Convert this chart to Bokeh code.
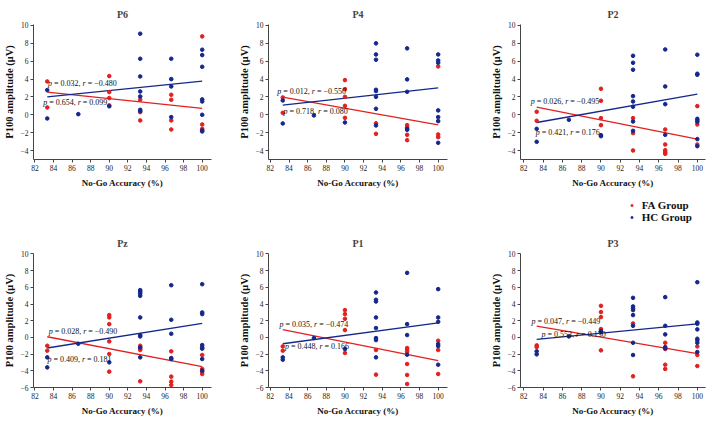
from bokeh.plotting import figure
from bokeh.layouts import row, column
from bokeh.models import Label, Legend, LegendItem, FixedTicker, Range1d, Spacer
from bokeh.embed import file_html
from bokeh.resources import INLINE

# ---------------- data ----------------
accuracy = [83.33, 86.67, 90.0, 93.33, 96.67, 100.0]
panels = ["P6", "P4", "P2", "Pz", "P1", "P3"]

# values grouped by accuracy level (same order as `accuracy`)
p6_fa = [[3.73, 0.82], [], [4.33, 2.54, 1.87, 1.05], [1.68, 0.30, -0.63],
         [2.24, 1.68, -0.63, -1.64], [8.77, -1.08, -1.57]]
p6_hc = [[2.76, -0.41], [0.07], [0.95], [9.07, 6.27, 4.29, 2.61, 2.05, 0.56, 0.41],
         [6.27, 3.99, 3.17, -0.26], [7.28, 6.68, 5.37, 1.72, 1.49, 0.0, -1.75, -1.86]]
p4_fa = [[1.94, 0.22], [], [3.88, 2.87, 2.01, 1.0, -0.34], [-0.95, -2.13],
         [-1.16, -1.4, -2.24, -2.84], [5.41, -2.20, -2.50]]
p4_hc = [[1.60, -0.97], [-0.07], [-0.86], [7.99, 6.75, 6.16, 2.80, 2.65, 2.01, 0.67, -1.19],
         [7.43, 3.96, 2.57, -1.57, -1.68], [6.75, 6.08, 5.82, 0.49, -0.26, -0.71, -3.13]]
p2_fa = [[0.34, -0.67], [], [2.91, 1.57, -0.37, -1.16], [-0.37, -2.05, -3.99],
         [-1.64, -3.32, -3.96, -4.18, -4.37], [0.97, -1.08, -3.32]]
p2_hc = [[-1.57, -3.02], [-0.56], [-2.28, -2.39], [6.60, 5.82, 5.04, 2.09, 1.49, 0.90, -0.75, -1.79],
         [7.31, 3.17, 1.19, -2.24], [6.72, 4.59, 4.48, -0.45, -0.63, -0.78, -2.72, -3.51]]
pz_fa = [[-1.00, -1.59], [], [2.67, 2.39, 1.59, -0.48, -1.99, -4.10], [-1.00, -1.35, -1.51, -5.26],
         [-1.67, -4.70, -5.30, -5.70], [-2.11, -3.78, -4.10, -4.38]]
pz_hc = [[-2.39, -3.59], [-0.76], [-2.99], [5.66, 5.46, 5.26, 4.98, 2.39, 0.28, 0.12, -1.2, -2.39],
         [6.25, 2.11, 0.44, -2.47, -2.6], [6.37, 2.99, 2.79, -0.92, -1.20, -1.35, -2.59, -3.98]]
p1_fa = [[-1.08, -1.59], [], [3.27, 2.79, 2.23, 0.88, -1.87], [-1.51, -4.46],
         [-1.27, -1.47, -1.71, -3.19, -4.50, -5.58], [-0.40, -1.51, -4.38]]
p1_hc = [[-2.39, -2.67], [-0.08], [-1.39], [5.38, 4.50, 4.30, 2.39, 1.12, -0.08, -0.32, -2.39],
         [7.73, 1.59, 0.28, -2.07], [5.78, 2.39, 1.87, -0.80, -1.04, -3.27]]
p3_fa = [[-0.96, -1.16], [], [3.78, 3.03, 2.43, 1.0, -1.55], [1.67, -4.66],
         [-0.64, -1.39, -3.27, -3.78], [-1.08, -2.11, -3.43]]
p3_hc = [[-1.67, -2.03], [0.12], [0.76, 0.64], [4.74, 3.71, 3.47, 3.27, 2.67, 1.39, -0.64, -2.11],
         [4.82, 1.39, 0.36, -1.16, -1.31], [6.61, 1.79, 1.63, 0.96, -0.16, -0.36, -0.64, -1.75]]

# fitted line values at the lowest and highest accuracy
fa_fit = [[2.54, 0.71], [1.98, -1.12], [0.86, -2.72], [0.08, -3.51], [0.92, -2.79], [1.35, -1.95]]
hc_fit = [[2.01, 3.77], [1.08, 3.02], [-0.86, 2.31], [-1.27, 1.67], [-0.76, 1.75], [-0.24, 1.63]]

# statistics text (two per panel)
stat_p = [["0.032", "0.654"], ["0.012", "0.718"], ["0.026", "0.421"],
          ["0.028", "0.409"], ["0.035", "0.448"], ["0.047", "0.553"]]
stat_r = [["\u22120.480", "0.099"], ["\u22120.550", "0.080"], ["\u22120.495", "0.176"],
          ["\u22120.490", "0.181"], ["\u22120.474", "0.166"], ["\u22120.449", "0.130"]]

x_ticks = [82, 84, 86, 88, 90, 92, 94, 96, 98, 100]
y_ticks_top = [-4, -2, 0, 2, 4, 6, 8, 10]
y_ticks_bottom = [-6, -4, -2, 0, 2, 4, 6, 8, 10]
legend_labels = ["FA Group", "HC Group"]

fa_data = [p6_fa, p4_fa, p2_fa, pz_fa, p1_fa, p3_fa]
hc_data = [p6_hc, p4_hc, p2_hc, pz_hc, p1_hc, p3_hc]

# ---------------- layout / style ----------------
RED = "#e3201f"
BLUE = "#14288c"
SERIF = "Liberation Serif"

col_w = [235, 235, 243]
col_left = [30, 30, 50]
col_right = [24, 23, 8]
col_xr = [(81.85, 101.0), (81.8, 101.0), (81.65, 100.85)]
row_h = [195, 196]
row_top = [24, 28]
row_bottom = [36, 34]
row_yr = [(-5.0, 10.1), (-6.0, 10.05)]

# annotation anchors (data coords, left edge / vertical centre)
ann_pos = [[(83.42, 3.47), (82.89, 1.38)], [(82.74, 2.61), (83.41, 0.41)],
           [(82.71, 1.49), (83.23, -1.98)], [(83.48, 0.68), (83.35, -2.59)],
           [(82.99, 1.59), (83.56, -1.08)], [(82.80, 1.91), (83.84, 0.36)]]

ANN_PX = 8.0
CW = {" ": 0.25, "=": 0.564, ".": 0.25, ",": 0.25, "\u2212": 0.564, "-": 0.333}


def tw(s):
    return sum(CW.get(c, 0.5) for c in s) * ANN_PX


def annotate(p, x, y, pv, rv):
    pieces = [("p", "italic"), ("= " + pv + ",", "normal"), ("r", "italic"), ("= " + rv, "normal")]
    widths = [0.5 * ANN_PX, tw("= " + pv + ","), 0.389 * ANN_PX, tw("= " + rv)]
    off = 0.0
    sp = 0.25 * ANN_PX
    for (txt, style), w in zip(pieces, widths):
        p.add_layout(Label(x=x, y=y, x_offset=off, text=txt, text_font=SERIF,
                           text_font_size=f"{ANN_PX}px", text_font_style=style,
                           text_baseline="middle", text_align="left", text_color="#111111"))
        off += w + sp


def flatten(groups):
    xs, ys = [], []
    for a, vals in zip(accuracy, groups):
        for v in vals:
            xs.append(a)
            ys.append(v)
    return xs, ys


figs = []
for i, name in enumerate(panels):
    r, c = divmod(i, 3)
    p = figure(width=col_w[c], height=row_h[r],
               min_border_left=col_left[c], min_border_right=col_right[c],
               min_border_top=row_top[r], min_border_bottom=row_bottom[r],
               x_range=Range1d(*col_xr[c]), y_range=Range1d(*row_yr[r]),
               title=name, output_backend="svg", toolbar_location=None)
    p.outline_line_color = None
    p.grid.visible = False
    p.title.text_font = SERIF
    p.title.text_font_style = "bold"
    p.title.text_font_size = "10px"
    p.title.align = "center"
    p.title.standoff = 9
    p.xaxis.ticker = FixedTicker(ticks=x_ticks)
    p.yaxis.ticker = FixedTicker(ticks=y_ticks_top if r == 0 else y_ticks_bottom)
    p.xaxis.axis_label = "No-Go Accuracy (%)"
    p.yaxis.axis_label = "P100 amplitude (\u03bcV)"
    for ax in (p.xaxis[0], p.yaxis[0]):
        ax.axis_line_color = "#444444"
        ax.major_tick_line_color = "#444444"
        ax.minor_tick_line_color = None
        ax.major_tick_in = 0
        ax.major_tick_out = 3
        ax.major_label_text_font = SERIF
        ax.major_label_text_font_size = "7.5px"
        ax.major_label_text_color = "#222222"
        ax.major_label_standoff = 2
        ax.axis_label_text_font = SERIF
        ax.axis_label_text_font_style = "bold"
        ax.axis_label_text_color = "#111111"
        ax.axis_label_standoff = 4
    p.xaxis.axis_label_text_font_size = "9px"
    p.yaxis.axis_label_text_font_size = "10.5px"
    p.yaxis.axis_label_standoff = 3

    fx, fy = flatten(fa_data[i])
    hx, hy = flatten(hc_data[i])
    p.line([accuracy[0], accuracy[-1]], fa_fit[i], line_color=RED, line_width=1.3)
    p.line([accuracy[0], accuracy[-1]], hc_fit[i], line_color=BLUE, line_width=1.3)
    p.scatter(fx, fy, size=3.6, color=RED)
    p.scatter(hx, hy, size=3.6, color=BLUE)

    for k in range(2):
        ax_, ay_ = ann_pos[i][k]
        annotate(p, ax_, ay_, stat_p[i][k], stat_r[i][k])
    figs.append(p)

# ---- legend strip between the two rows (renderers hidden, only their legend glyphs shown) ----
lf = figure(width=88, height=30, min_border=0, x_range=Range1d(0, 1), y_range=Range1d(0, 1),
            x_axis_type=None, y_axis_type=None, output_backend="svg", toolbar_location=None)
lf.outline_line_color = None
lf.grid.visible = False
lfx, lfy = flatten(p2_fa)
lhx, lhy = flatten(p2_hc)
fa_r = lf.scatter(lfx, lfy, size=3.6, color=RED, visible=False)
hc_r = lf.scatter(lhx, lhy, size=3.6, color=BLUE, visible=False)
leg = Legend(items=[LegendItem(label=legend_labels[0], renderers=[fa_r], index=0),
                    LegendItem(label=legend_labels[1], renderers=[hc_r], index=0)],
             location=(3.7, 2), orientation="vertical",
             padding=0, margin=0, spacing=0, glyph_width=5, glyph_height=12,
             label_height=12, label_standoff=8, border_line_color=None,
             background_fill_alpha=0, inactive_fill_alpha=0, label_text_font=SERIF,
             label_text_font_style="bold", label_text_font_size="11px",
             label_text_color="#111111")
lf.add_layout(leg)

layout = column(row(*figs[:3]), row(Spacer(width=625, height=30), lf), row(*figs[3:]))
open("out.html", "w").write(file_html(layout, INLINE))
